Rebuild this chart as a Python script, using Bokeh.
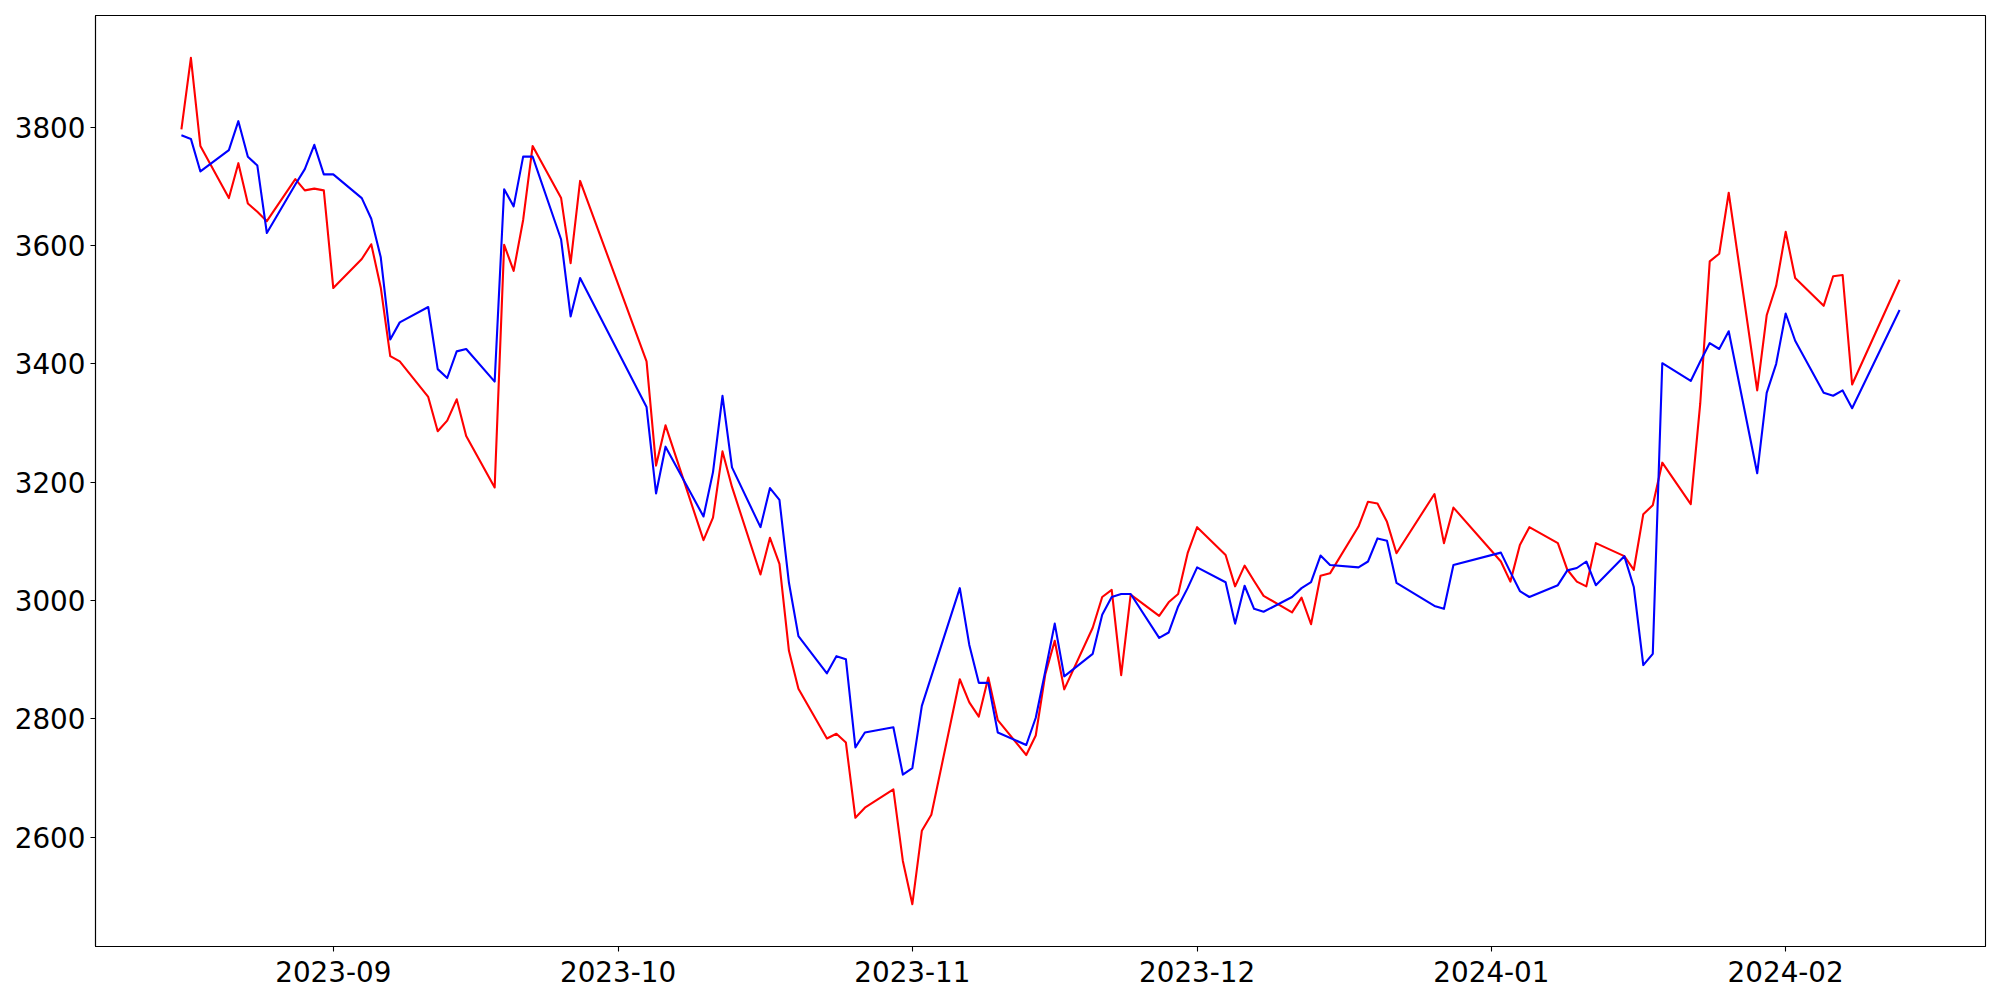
import pandas as pd
from bokeh.plotting import figure
from bokeh.models import Range1d, FixedTicker, ColumnDataSource
from bokeh.embed import file_html
from bokeh.resources import INLINE

# ---- data (trading days) ----
dates = [
    "2023-08-16", "2023-08-17", "2023-08-18", "2023-08-21", "2023-08-22", "2023-08-23",
    "2023-08-24", "2023-08-25", "2023-08-28", "2023-08-29", "2023-08-30", "2023-08-31",
    "2023-09-01", "2023-09-04", "2023-09-05", "2023-09-06", "2023-09-07", "2023-09-08",
    "2023-09-11", "2023-09-12", "2023-09-13", "2023-09-14", "2023-09-15", "2023-09-18",
    "2023-09-19", "2023-09-20", "2023-09-21", "2023-09-22", "2023-09-25", "2023-09-26",
    "2023-09-27",
    "2023-10-04", "2023-10-05", "2023-10-06", "2023-10-10", "2023-10-11", "2023-10-12",
    "2023-10-13", "2023-10-16", "2023-10-17", "2023-10-18", "2023-10-19", "2023-10-20",
    "2023-10-23", "2023-10-24", "2023-10-25", "2023-10-26", "2023-10-27", "2023-10-30",
    "2023-10-31",
    "2023-11-01", "2023-11-02", "2023-11-03", "2023-11-06", "2023-11-07", "2023-11-08",
    "2023-11-09", "2023-11-10", "2023-11-13", "2023-11-14", "2023-11-15", "2023-11-16",
    "2023-11-17", "2023-11-20", "2023-11-21", "2023-11-22", "2023-11-23", "2023-11-24",
    "2023-11-27", "2023-11-28", "2023-11-29", "2023-11-30",
    "2023-12-01", "2023-12-04", "2023-12-05", "2023-12-06", "2023-12-07", "2023-12-08",
    "2023-12-11", "2023-12-12", "2023-12-13", "2023-12-14", "2023-12-15", "2023-12-18",
    "2023-12-19", "2023-12-20", "2023-12-21", "2023-12-22", "2023-12-26", "2023-12-27",
    "2023-12-28",
    "2024-01-02", "2024-01-03", "2024-01-04", "2024-01-05", "2024-01-08", "2024-01-09",
    "2024-01-10", "2024-01-11", "2024-01-12", "2024-01-15", "2024-01-16", "2024-01-17",
    "2024-01-18", "2024-01-19", "2024-01-22", "2024-01-23", "2024-01-24", "2024-01-25",
    "2024-01-26", "2024-01-29", "2024-01-30", "2024-01-31",
    "2024-02-01", "2024-02-02", "2024-02-05", "2024-02-06", "2024-02-07", "2024-02-08",
    "2024-02-13",
]

red_values = [
    3796, 3917, 3768, 3680, 3739, 3671, 3657, 3641, 3712, 3693, 3696, 3693,
    3528, 3577, 3602, 3529, 3413, 3404, 3344, 3286, 3304, 3340, 3278, 3191,
    3601, 3557, 3643, 3768, 3680, 3570, 3709,
    3404, 3228, 3296, 3102, 3140, 3252, 3192, 3044, 3106, 3062, 2915, 2851,
    2767, 2775, 2760, 2633, 2650, 2681, 2560,
    2487, 2611, 2638, 2867, 2828, 2804, 2870, 2798, 2739, 2772, 2875, 2932,
    2850, 2954, 3006, 3018, 2874, 3010, 2974, 2997, 3011, 3080,
    3124, 3077, 3024, 3059, 3033, 3008, 2980, 3005, 2960, 3042, 3046, 3125,
    3167, 3164, 3133, 3080, 3180, 3097, 3157,
    3066, 3032, 3094, 3124, 3097, 3052, 3032, 3024, 3097, 3075, 3052, 3146,
    3161, 3233, 3163, 3333, 3573, 3586, 3689, 3355, 3482, 3532,
    3623, 3545, 3498, 3548, 3550, 3365, 3542,
]

blue_values = [
    3786, 3780, 3725, 3761, 3810, 3750, 3735, 3621, 3703, 3729, 3770, 3720,
    3720, 3680, 3645, 3580, 3441, 3470, 3496, 3391, 3376, 3421, 3425, 3370,
    3695, 3666, 3750, 3750, 3610, 3480, 3545,
    3327, 3181, 3260, 3142, 3217, 3346, 3225, 3124, 3190, 3170, 3030, 2940,
    2877, 2906, 2901, 2752, 2777, 2786, 2706,
    2717, 2822, 2872, 3021, 2925, 2861, 2861, 2777, 2756, 2802, 2880, 2961,
    2872, 2910, 2976, 3006, 3011, 3011, 2937, 2946, 2990, 3021,
    3056, 3031, 2961, 3025, 2986, 2981, 3006, 3021, 3031, 3076, 3060, 3056,
    3066, 3105, 3101, 3030, 2991, 2986, 3060,
    3081, 3048, 3016, 3006, 3026, 3051, 3055, 3066, 3026, 3075, 3023, 2891,
    2910, 3401, 3371, 3404, 3435, 3425, 3455, 3215, 3351, 3400,
    3485, 3439, 3351, 3346, 3355, 3325, 3491,
]

x_tick_labels = ["2023-09", "2023-10", "2023-11", "2023-12", "2024-01", "2024-02"]
y_ticks = [2600, 2800, 3000, 3200, 3400, 3600, 3800]

# ---- build ----
x = pd.to_datetime(dates)
src = ColumnDataSource(dict(x=x, red=red_values, blue=blue_values))

span = x.max() - x.min()
x0 = (x.min() - 0.05 * span).to_pydatetime()
x1 = (x.max() + 0.05 * span).to_pydatetime()
allv = red_values + blue_values
lo, hi = min(allv), max(allv)
pad = 0.05 * (hi - lo)

p = figure(
    width=1990, height=990,
    x_axis_type="datetime",
    x_range=Range1d(x0, x1), y_range=Range1d(lo - pad, hi + pad),
    output_backend="svg", toolbar_location=None,
    min_border_left=95, min_border_right=5, min_border_top=15, min_border_bottom=44,
)

p.line("x", "red", source=src, line_color="red", line_width=2.1, line_join="round")
p.line("x", "blue", source=src, line_color="blue", line_width=2.1, line_join="round")

tick_ms = [int(t.value // 10**6) for t in pd.to_datetime([s + "-01" for s in x_tick_labels])]
p.xaxis.ticker = FixedTicker(ticks=tick_ms)
p.xaxis.major_label_overrides = {ms: lab for ms, lab in zip(tick_ms, x_tick_labels)}
p.yaxis.ticker = FixedTicker(ticks=y_ticks)

p.xgrid.visible = False
p.ygrid.visible = False
p.outline_line_color = "black"
p.outline_line_width = 1.1
p.outline_line_alpha = 1.0
p.background_fill_color = "white"
p.border_fill_color = "white"

for ax in (p.xaxis[0], p.yaxis[0]):
    ax.axis_line_color = "black"
    ax.axis_line_width = 1.1
    ax.major_tick_line_color = "black"
    ax.major_tick_line_width = 1.1
    ax.major_tick_out = 5
    ax.major_tick_in = 0
    ax.minor_tick_line_color = None
    ax.major_label_text_font = "DejaVu Sans"
    ax.major_label_text_font_size = "27.8px"
    ax.major_label_text_color = "black"
    ax.major_label_standoff = 5

p.xaxis.major_label_standoff = 9

open("out.html", "w").write(file_html(p, INLINE))
